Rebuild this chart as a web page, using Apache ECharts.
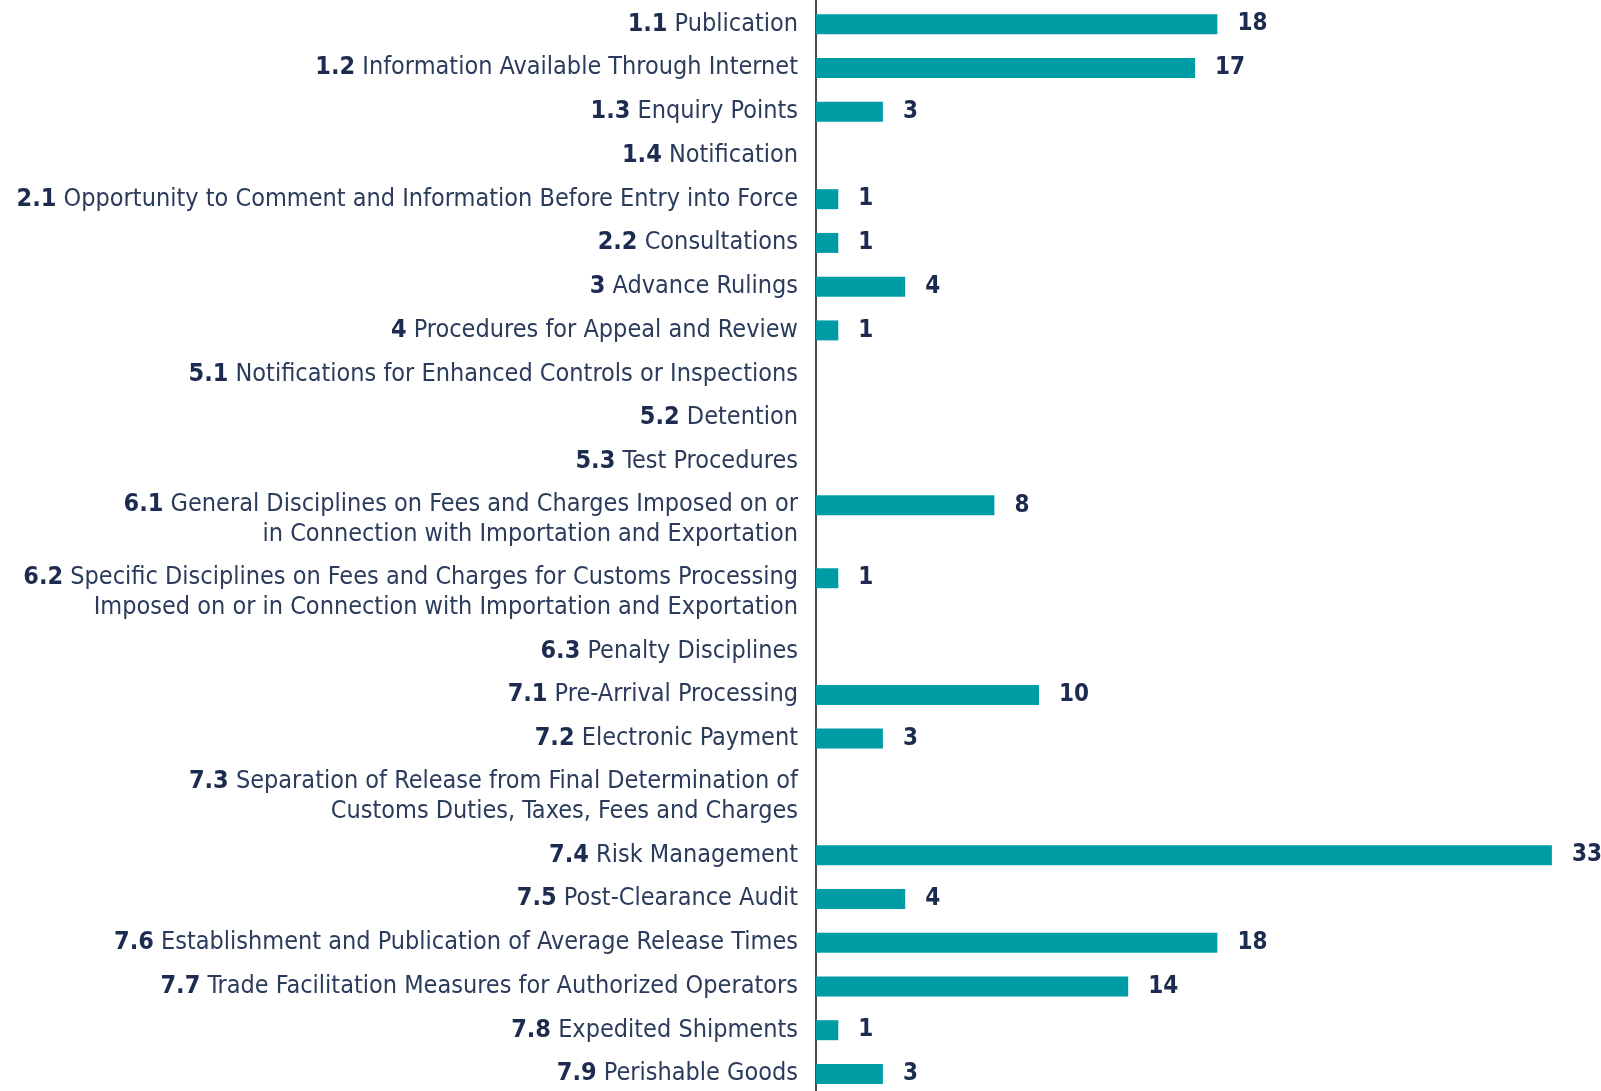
<!DOCTYPE html>
<html>
<head>
<meta charset="utf-8">
<script src="https://cdn.jsdelivr.net/npm/echarts@6/dist/echarts.min.js"></script>
<style>
html,body{margin:0;padding:0;background:#fff;}
#chart{width:1601px;height:1091px;}
</style>
</head>
<body>
<div id="chart"></div>
<script>
const codes = ['1.1','1.2','1.3','1.4','2.1','2.2','3','4','5.1','5.2','5.3','6.1','6.2','6.3','7.1','7.2','7.3','7.4','7.5','7.6','7.7','7.8','7.9'];
const names = [
  'Publication',
  'Information Available Through Internet',
  'Enquiry Points',
  'Notification',
  'Opportunity to Comment and Information Before Entry into Force',
  'Consultations',
  'Advance Rulings',
  'Procedures for Appeal and Review',
  'Notifications for Enhanced Controls or Inspections',
  'Detention',
  'Test Procedures',
  'General Disciplines on Fees and Charges Imposed on or\nin Connection with Importation and Exportation',
  'Specific Disciplines on Fees and Charges for Customs Processing\nImposed on or in Connection with Importation and Exportation',
  'Penalty Disciplines',
  'Pre-Arrival Processing',
  'Electronic Payment',
  'Separation of Release from Final Determination of\nCustoms Duties, Taxes, Fees and Charges',
  'Risk Management',
  'Post-Clearance Audit',
  'Establishment and Publication of Average Release Times',
  'Trade Facilitation Measures for Authorized Operators',
  'Expedited Shipments',
  'Perishable Goods'
];
const values = [18,17,3,0,1,1,4,1,0,0,0,8,1,0,10,3,0,33,4,18,14,1,3];

const FONT = '"Liberation Sans Narrow","DejaVu Sans Condensed","Roboto Condensed","Roboto",sans-serif';
const TEXT = '#2b3b5c';
const NAVY = '#1c2b4f';

// Fine-grained category axis: single-line rows take 3 slots, two-line rows take 5.
const SLOTS = 76;
const axisCats = new Array(SLOTS).fill('');
const barData = new Array(SLOTS).fill('-');
let idx = 2;
codes.forEach((c, i) => {
  const twoLine = names[i].indexOf('\n') >= 0;
  barData[idx] = values[i];
  axisCats[twoLine ? idx + 1 : idx] = '{b|' + c + '} ' + names[i];
  idx += twoLine ? 5 : 3;
});

const chart = echarts.init(document.getElementById('chart'), null, {renderer: 'canvas'});
chart.setOption({
  animation: false,
  backgroundColor: '#ffffff',
  grid: {left: 816, width: 780.5, top: -12.2, height: 1108, containLabel: false, outerBoundsMode: 'none'},
  xAxis: {type: 'value', min: 0, max: 35, show: false},
  yAxis: {
    type: 'category',
    inverse: true,
    data: axisCats,
    axisTick: {show: false},
    splitLine: {show: false},
    axisLine: {show: true, lineStyle: {color: '#4a4a4a', width: 2}},
    axisLabel: {
      interval: 0,
      margin: 18,
      color: TEXT,
      fontFamily: FONT,
      fontSize: 25,
      lineHeight: 30,
      align: 'right',
      rich: {
        b: {fontWeight: 'bold', color: NAVY, fontFamily: FONT, fontSize: 25, lineHeight: 30}
      }
    }
  },
  series: [{
    type: 'bar',
    data: barData,
    barWidth: 20,
    itemStyle: {color: '#009ca6'},
    label: {
      show: true,
      position: 'right',
      distance: 20,
      color: NAVY,
      fontFamily: FONT,
      fontWeight: 'bold',
      fontSize: 24,
      formatter: p => (p.value ? String(p.value) : '')
    }
  }]
});
</script>
</body>
</html>
